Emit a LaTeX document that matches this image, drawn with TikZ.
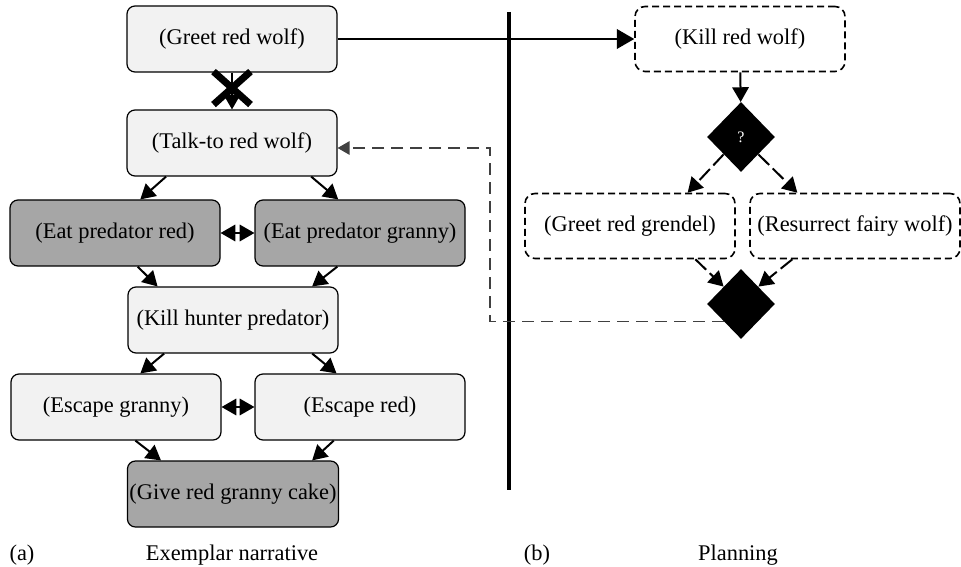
\documentclass[tikz,border=0pt]{standalone}
\usepackage{fontspec}
\setmainfont{Liberation Serif}
\usepackage{tikz}
\usetikzlibrary{shapes}
\usetikzlibrary{shapes.geometric}
\usetikzlibrary{shapes.misc}
\usetikzlibrary{arrows}
\usetikzlibrary{positioning}

\definecolor{lightbox}{HTML}{F2F2F2}
\definecolor{darkbox}{HTML}{A6A6A6}
\definecolor{loopgray}{HTML}{404040}

\begin{document}
\begin{tikzpicture}[
        x=0.5pt, y=-0.5pt,
        font=\fontsize{11.2}{13}\selectfont,
        event/.style={rectangle, rounded corners=4pt, draw, line width=0.6pt,
            fill=lightbox, inner xsep=1pt, minimum width=105pt, minimum height=33pt},
        plan/.style={rectangle, rounded corners=5pt, draw, line width=0.8pt,
            dash pattern=on 3.5pt off 2pt, fill=white, inner xsep=1pt,
            minimum width=105pt, minimum height=32.5pt},
        choice/.style={diamond, fill=black, inner sep=0pt,
            minimum width=34pt, minimum height=35pt},
        link/.style={-triangle 60, line width=1pt}
        ]
        \tikzstyle{optional} = [link, dash pattern=on 7.5pt off 2.5pt];
        \tikzstyle{block} = [cross out, draw, line width=3.5pt, inner sep=0pt,
            minimum width=15pt, minimum height=13pt];
        \useasboundingbox (0,0) rectangle (961,566);

        % exemplar narrative
        \node[event] (greet) at (232,39) {(Greet red wolf)};
        \node[event] (talk) at (232,143) {(Talk-to red wolf)};
        \node[event, fill=darkbox] (eatred) at (115,233) {(Eat predator red)};
        \node[event, fill=darkbox] (eatgranny) at (360,233) {(Eat predator granny)};
        \node[event] (kill) at (233,320) {(Kill hunter predator)};
        \node[event] (escgranny) at (116,407) {(Escape granny)};
        \node[event] (escred) at (360,407) {(Escape red)};
        \node[event, fill=darkbox] (cake) at (233,494) {(Give red granny cake)};

        \draw[link] (greet) -- node[block, pos=0.42] (stop) {} (talk);
        \draw[link] (talk.-153) -- (eatred.53);
        \draw[link] (talk.-23) -- (eatgranny.123);
        \draw[link, triangle 60-triangle 60] (eatred) -- (eatgranny);
        \draw[link] (eatred.-56) -- (kill.156);
        \draw[link] (eatgranny.-124) -- (kill.23);
        \draw[link] (kill.-154) -- (escgranny.54);
        \draw[link] (kill.-23) -- (escred.125);
        \draw[link, triangle 60-triangle 60] (escgranny) -- (escred);
        \draw[link] (escgranny.-60) -- (cake.155);
        \draw[link] (escred.-128) -- (cake.23);

        % separator
        \draw[line width=2pt] (509,12) -- (509,490);

        % planning
        \node[plan] (killwolf) at (740,39) {(Kill red wolf)};
        \node[choice, text=white, font=\fontsize{8}{9}\selectfont] (branch) at (741,137) {?};
        \node[plan] (grendel) at (630,226) {(Greet red grendel)};
        \node[plan] (resurrect) at (855,226) {(Resurrect fairy wolf)};
        \node[choice] (merge) at (741,304) {};

        \draw[link, line width=1.4pt] (greet) -- (killwolf);
        \draw[link] (killwolf) -- (branch);
        \draw[optional] (branch.-135) -- (grendel.30);
        \draw[optional] (branch.-45) -- (resurrect.150);
        \draw[optional] (grendel.-27) -- (merge.135);
        \draw[optional] (resurrect.-152) -- (merge.45);

        \coordinate (loopback) at (490,148);
        \draw[-triangle 60, line width=0.6pt, loopgray, dash pattern=on 6pt off 3.5pt]
            (merge.-135) -| (loopback) -- (loopback -| talk.east);

        % captions
        \node (taga) at (22,555) {(a)};
        \node (capa) at (232,555) {Exemplar narrative};
        \node (tagb) at (537,555) {(b)};
        \node (capb) at (738,555) {Planning};
\end{tikzpicture}
\end{document}
